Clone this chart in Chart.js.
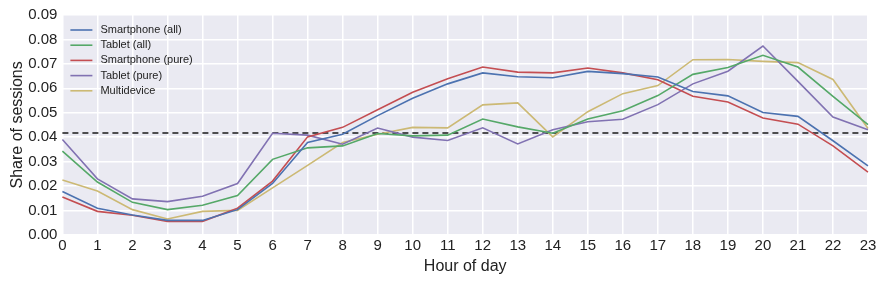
<!DOCTYPE html>
<html>
<head>
<meta charset="utf-8">
<script src="https://cdn.jsdelivr.net/npm/chart.js@4/dist/chart.umd.min.js"></script>
<style>
  html, body { margin: 0; padding: 0; background: #fff; }
  #wrap { width: 886px; height: 285px; }
</style>
</head>
<body>
<div id="wrap"><canvas id="c" width="886" height="285"></canvas></div>
<script>
var hours = [0, 1, 2, 3, 4, 5, 6, 7, 8, 9, 10, 11, 12, 13, 14, 15, 16, 17, 18, 19, 20, 21, 22, 23];

var smartphoneAll = [0.0177, 0.0109, 0.0081, 0.0059, 0.0059, 0.0103, 0.0210, 0.0378, 0.0412, 0.0488, 0.0559, 0.0618,
                     0.0663, 0.0647, 0.0643, 0.0669, 0.0660, 0.0646, 0.0587, 0.0569, 0.0501, 0.0485, 0.0385, 0.0282];
var tabletAll = [0.0343, 0.0216, 0.0133, 0.0103, 0.0121, 0.0161, 0.0309, 0.0356, 0.0364, 0.0415, 0.0405, 0.0408,
                 0.0474, 0.0442, 0.0416, 0.0474, 0.0508, 0.0570, 0.0657, 0.0685, 0.0735, 0.0687, 0.0567, 0.0451];
var smartphonePure = [0.0155, 0.0096, 0.0080, 0.0055, 0.0055, 0.0109, 0.0220, 0.0401, 0.0440, 0.0512, 0.0584, 0.0639,
                      0.0687, 0.0666, 0.0663, 0.0683, 0.0663, 0.0635, 0.0567, 0.0544, 0.0478, 0.0453, 0.0364, 0.0257];
var tabletPure = [0.0390, 0.0229, 0.0147, 0.0136, 0.0158, 0.0210, 0.0416, 0.0408, 0.0371, 0.0437, 0.0400, 0.0386,
                  0.0438, 0.0372, 0.0430, 0.0463, 0.0473, 0.0533, 0.0618, 0.0670, 0.0773, 0.0628, 0.0482, 0.0430];
var multidevice = [0.0224, 0.0179, 0.0103, 0.0065, 0.0096, 0.0100, 0.0192, 0.0284, 0.0378, 0.0412, 0.0440, 0.0438,
                   0.0532, 0.0540, 0.0401, 0.0504, 0.0578, 0.0611, 0.0717, 0.0718, 0.0710, 0.0705, 0.0636, 0.0435];
var uniformShare = hours.map(function () { return 1 / 24; });

var FONT = '"Liberation Sans", Arial, sans-serif';

function series(label, data, color) {
    return {
        label: label,
        data: data,
        borderColor: color,
        backgroundColor: color,
        borderWidth: 1.6,
        pointRadius: 0,
        tension: 0,
        fill: false
    };
}

var bgPlugin = {
    id: 'plotBg',
    beforeDraw: function (chart) {
        var a = chart.chartArea, ctx = chart.ctx;
        ctx.save();
        ctx.fillStyle = '#EAEAF2';
        ctx.fillRect(a.left, a.top, a.right - a.left, a.bottom - a.top);
        ctx.restore();
    }
};

// matplotlib style legend in the upper left corner of the plot
var legendPlugin = {
    id: 'innerLegend',
    afterDatasetsDraw: function (chart) {
        var a = chart.chartArea, ctx = chart.ctx;
        var x = a.left + 8, y = a.top + 15;
        ctx.save();
        ctx.font = '11px ' + FONT;
        ctx.textBaseline = 'middle';
        chart.data.datasets.forEach(function (ds) {
            if (ds.label === 'mean') return;
            ctx.strokeStyle = ds.borderColor;
            ctx.lineWidth = 1.6;
            ctx.beginPath();
            ctx.moveTo(x, y);
            ctx.lineTo(x + 22, y);
            ctx.stroke();
            ctx.fillStyle = '#222';
            ctx.fillText(ds.label, x + 30, y);
            y += 15.2;
        });
        ctx.restore();
    }
};

var mean = series('mean', uniformShare, '#1a1a1a');
mean.borderDash = [6, 4];
mean.borderWidth = 1.4;

new Chart(document.getElementById('c'), {
    type: 'line',
    data: {
        labels: hours,
        datasets: [
            series('Smartphone (all)', smartphoneAll, '#4C72B0'),
            series('Tablet (all)', tabletAll, '#55A868'),
            series('Smartphone (pure)', smartphonePure, '#C44E52'),
            series('Tablet (pure)', tabletPure, '#8172B2'),
            series('Multidevice', multidevice, '#CCB974'),
            mean
        ]
    },
    plugins: [bgPlugin, legendPlugin],
    options: {
        responsive: false,
        animation: false,
        layout: { padding: { top: 15, right: 18, bottom: 9, left: 8 } },
        plugins: {
            tooltip: { enabled: false },
            legend: { display: false }
        },
        scales: {
            x: {
                offset: false,
                grid: { color: '#ffffff', lineWidth: 1.5, drawTicks: false },
                border: { display: false },
                ticks: { color: '#222', padding: 2, maxRotation: 0, autoSkip: false, font: { family: FONT, size: 15 } },
                title: { display: true, text: 'Hour of day', color: '#222', padding: { top: 0, bottom: 0 }, font: { family: FONT, size: 16 } }
            },
            y: {
                min: 0,
                max: 0.09,
                grid: { color: '#ffffff', lineWidth: 1.5, drawTicks: false },
                border: { display: false },
                ticks: {
                    stepSize: 0.01,
                    color: '#222',
                    padding: 5,
                    font: { family: FONT, size: 15 },
                    callback: function (v) { return v.toFixed(2); }
                },
                title: { display: true, text: 'Share of sessions', color: '#222', padding: { top: 0, bottom: -4 }, font: { family: FONT, size: 16 } }
            }
        }
    }
});
</script>
</body>
</html>
